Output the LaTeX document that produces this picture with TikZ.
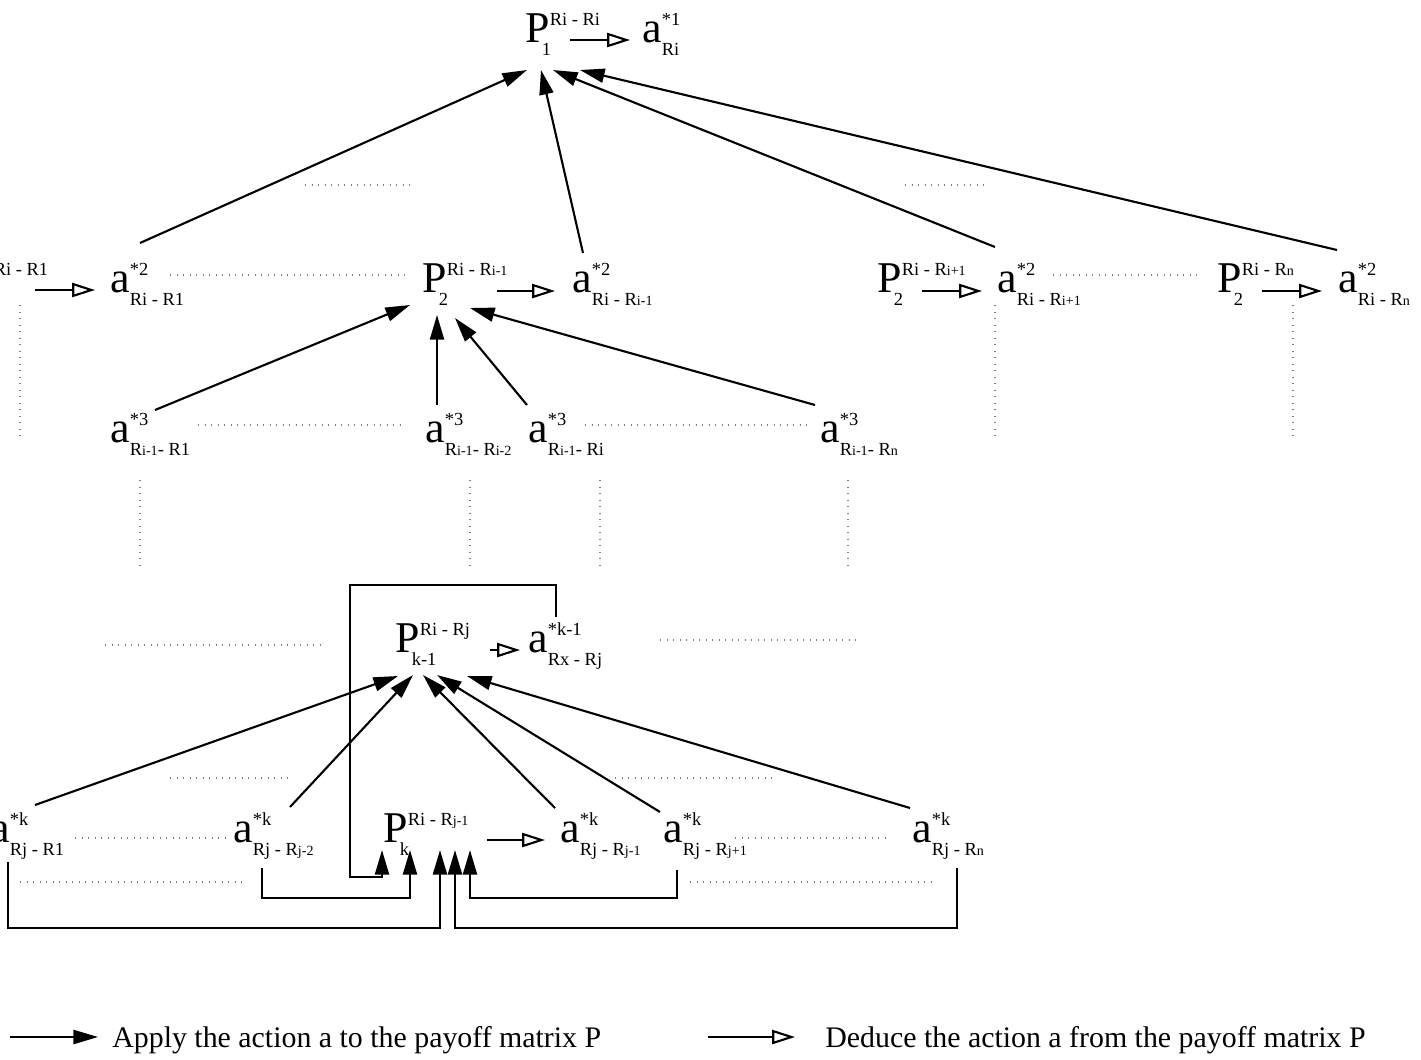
\documentclass[tikz,border=0pt]{standalone}
\usepackage{fontspec}
\setmainfont{Liberation Serif}
\usetikzlibrary{arrows.meta}

\newcommand{\supsz}{\fontsize{10.5}{10.5}\selectfont}
\newcommand{\ix}[1]{{\fontsize{8}{8}\selectfont #1}}
\newcommand{\Pm}[2]{P\rlap{\raisebox{9.5pt}{\supsz #1}}\kern-4.5pt\raisebox{-7.5pt}{\supsz #2}}
\newcommand{\am}[2]{a\rlap{\raisebox{9.5pt}{\supsz #1}}\raisebox{-7.5pt}{\supsz #2}}

\tikzset{
	etiq/.style={anchor=base west, inner sep=0pt, font=\fontsize{25}{25}\selectfont},
	leyenda/.style={anchor=base west, inner sep=0pt, font=\fontsize{17}{17}\selectfont},
	aplica/.style={line width=1.2pt, -{Triangle[length=14pt,width=8pt]}},
	deduce/.style={line width=1.2pt, -{Triangle[open,length=13pt,width=8pt]}},
	puntos/.style={gray, line width=0.7pt, dash pattern=on 0.7pt off 3pt}
}

\begin{document}
\begin{tikzpicture}[x=0.02cm, y=-0.02cm]
	\useasboundingbox (0,0) rectangle (1421,1059);
	
	% nivel 1
	\node[etiq] (P1) at (525,42) {\Pm{Ri - Ri}{1}};
	\node[etiq] (a1) at (642,42) {\am{*1}{Ri}};
	
	% nivel 2
	\node[etiq] (P2a) at (-31,292) {\Pm{Ri - R1}{2}};
	\node[etiq] (a2a) at (110,292) {\am{*2}{Ri - R1}};
	\node[etiq] (P2b) at (422,292) {\Pm{Ri - R\ix{i-1}}{2}};
	\node[etiq] (a2b) at (572,292) {\am{*2}{Ri - R\ix{i-1}}};
	\node[etiq] (P2c) at (877,292) {\Pm{Ri - R\ix{i+1}}{2}};
	\node[etiq] (a2c) at (997,292) {\am{*2}{Ri - R\ix{i+1}}};
	\node[etiq] (P2d) at (1217,292) {\Pm{Ri - R\ix{n}}{2}};
	\node[etiq] (a2d) at (1338,292) {\am{*2}{Ri - R\ix{n}}};
	
	% nivel 3
	\node[etiq] (a3a) at (110,442) {\am{*3}{R\ix{i-1}- R1}};
	\node[etiq] (a3b) at (425,442) {\am{*3}{R\ix{i-1}- R\ix{i-2}}};
	\node[etiq] (a3c) at (528,442) {\am{*3}{R\ix{i-1}- Ri}};
	\node[etiq] (a3d) at (820,442) {\am{*3}{R\ix{i-1}- R\ix{n}}};
	
	% nivel k-1 y k
	\node[etiq] (Pkm) at (395,652) {\Pm{Ri - Rj}{k-1}};
	\node[etiq] (akm) at (528,652) {\am{*k-1}{Rx - Rj}};
	\node[etiq] (aka) at (-10,842) {\am{*k}{Rj - R1}};
	\node[etiq] (akb) at (233,842) {\am{*k}{Rj - R\ix{j-2}}};
	\node[etiq] (Pk) at (383,842) {\Pm{Ri - R\ix{j-1}}{k}};
	\node[etiq] (akc) at (560,842) {\am{*k}{Rj - R\ix{j-1}}};
	\node[etiq] (akd) at (663,842) {\am{*k}{Rj - R\ix{j+1}}};
	\node[etiq] (ake) at (912,842) {\am{*k}{Rj - R\ix{n}}};
	
	% deducir
	\draw[deduce] ([shift={(45,-2)}]P1.base west) -- ([shift={(-12,-2)}]a1.base west);
	\draw[deduce] ([shift={(66,-2)}]P2a.base west) -- ([shift={(-15,-2)}]a2a.base west);
	\draw[deduce] ([shift={(75,-1)}]P2b.base west) -- ([shift={(-17,-1)}]a2b.base west);
	\draw[deduce] ([shift={(45,-1)}]P2c.base west) -- ([shift={(-15,-1)}]a2c.base west);
	\draw[deduce] ([shift={(45,-1)}]P2d.base west) -- ([shift={(-16,-1)}]a2d.base west);
	\draw[deduce] ([shift={(95,-2)}]Pkm.base west) -- ([shift={(-8,-2)}]akm.base west);
	\draw[deduce] ([shift={(104,-2)}]Pk.base west) -- ([shift={(-15,-2)}]akc.base west);
	
	% aplicar
	\draw[aplica] ([shift={(30,-49)}]a2a.base west) -- ([shift={(2,28)}]P1.base west);
	\draw[aplica] ([shift={(11,-39)}]a2b.base west) -- ([shift={(16,28)}]P1.base west);
	\draw[aplica] ([shift={(-2,-45)}]a2c.base west) -- ([shift={(28,28)}]P1.base west);
	\draw[aplica] ([shift={(-1,-42)}]a2d.base west) -- ([shift={(55,28)}]P1.base west);
	
	\draw[aplica] ([shift={(45,-32)}]a3a.base west) -- ([shift={(-12,13)}]P2b.base west);
	\draw[aplica] ([shift={(12,-37)}]a3b.base west) -- ([shift={(15,23)}]P2b.base west);
	\draw[aplica] ([shift={(-1,-37)}]a3c.base west) -- ([shift={(33,26)}]P2b.base west);
	\draw[aplica] ([shift={(-5,-37)}]a3d.base west) -- ([shift={(48,16)}]P2b.base west);
	
	\draw[aplica] ([shift={(45,-37)}]aka.base west) -- ([shift={(3,24)}]Pkm.base west);
	\draw[aplica] ([shift={(57,-35)}]akb.base west) -- ([shift={(18,23)}]Pkm.base west);
	\draw[aplica] ([shift={(-5,-34)}]akc.base west) -- ([shift={(28,23)}]Pkm.base west);
	\draw[aplica] ([shift={(-3,-30)}]akd.base west) -- ([shift={(42,23)}]Pkm.base west);
	\draw[aplica] ([shift={(-2,-34)}]ake.base west) -- ([shift={(72,24)}]Pkm.base west);
	
	\draw[aplica] ([shift={(28,-35)}]akm.base west) -- ++(0,-32) -| (350,877) -| ([shift={(-1,8)}]Pk.base west);
	\draw[aplica] ([shift={(29,26)}]akb.base west) -- ++(0,30) -| ([shift={(27,8)}]Pk.base west);
	\draw[aplica] ([shift={(18,20)}]aka.base west) -- ++(0,66) -| ([shift={(57,8)}]Pk.base west);
	\draw[aplica] ([shift={(45,26)}]ake.base west) -- ++(0,60) -| ([shift={(72,8)}]Pk.base west);
	\draw[aplica] ([shift={(14,28)}]akd.base west) -- ++(0,28) -| ([shift={(87,8)}]Pk.base west);
	
	% puntos suspensivos
	\draw[puntos] (305,185) -- (410,185);
	\draw[puntos] (905,185) -- (987,185);
	\draw[puntos] (170,275) -- (405,275);
	\draw[puntos] (1053,275) -- (1198,275);
	\draw[puntos] (20,305) -- (20,440);
	\draw[puntos] (995,305) -- (995,440);
	\draw[puntos] (1293,305) -- (1293,440);
	\draw[puntos] (198,425) -- (405,425);
	\draw[puntos] (585,425) -- (808,425);
	\draw[puntos] (140,480) -- (140,565);
	\draw[puntos] (470,480) -- (470,565);
	\draw[puntos] (600,480) -- (600,565);
	\draw[puntos] (848,480) -- (848,565);
	\draw[puntos] (105,645) -- (320,645);
	\draw[puntos] (660,640) -- (860,640);
	\draw[puntos] (170,778) -- (290,778);
	\draw[puntos] (615,778) -- (773,778);
	\draw[puntos] (75,838) -- (225,838);
	\draw[puntos] (735,838) -- (890,838);
	\draw[puntos] (20,882) -- (245,882);
	\draw[puntos] (690,882) -- (933,882);
	
	% leyenda
	\coordinate (lgA) at (10,1037);
	\coordinate (lgD) at (708,1037);
	\node[leyenda] (txA) at (112,1047) {Apply the action a to the payoff matrix P};
	\node[leyenda] (txD) at (825,1047) {Deduce the action a from the payoff matrix P};
	\draw[aplica] (lgA) -- ([shift={(-14,-10)}]txA.base west);
	\draw[deduce] (lgD) -- ([shift={(-30,-10)}]txD.base west);
\end{tikzpicture}
\end{document}
